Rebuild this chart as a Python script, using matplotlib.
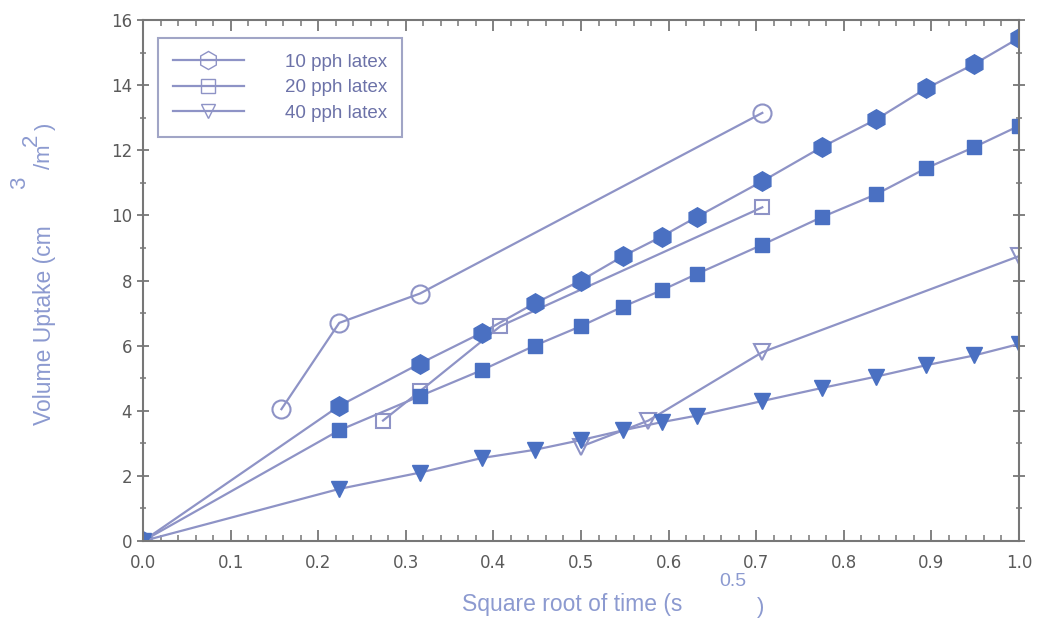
import numpy as np
import matplotlib.pyplot as plt
from matplotlib.lines import Line2D
from matplotlib.ticker import MultipleLocator, FormatStrFormatter

# data (x = square root of time)
x_full = [0.0, 0.224, 0.316, 0.387, 0.447, 0.5, 0.548, 0.592, 0.632,
          0.707, 0.775, 0.837, 0.894, 0.949, 1.0]
y10_filled = [0.0, 4.15, 5.45, 6.4, 7.3, 8.0, 8.75, 9.35, 9.95,
              11.05, 12.1, 12.95, 13.9, 14.65, 15.45]
y20_filled = [0.0, 3.4, 4.45, 5.25, 6.0, 6.6, 7.2, 7.7, 8.2,
              9.1, 9.95, 10.65, 11.45, 12.1, 12.75]
y40_filled = [0.0, 1.6, 2.1, 2.55, 2.8, 3.1, 3.4, 3.65, 3.85,
              4.3, 4.7, 5.05, 5.4, 5.7, 6.05]

x10_open = [0.158, 0.224, 0.316, 0.707]
y10_open = [4.05, 6.7, 7.6, 13.15]
x20_open = [0.274, 0.316, 0.408, 0.707]
y20_open = [3.7, 4.6, 6.6, 10.25]
x40_open = [0.5, 0.577, 0.707, 1.0]
y40_open = [2.9, 3.7, 5.8, 8.75]

labels = ['10 pph latex', '20 pph latex', '40 pph latex']

line_c = '#8e93c6'
fill_c = '#4a70c2'
text_c = '#5a5a5a'
lab_c = '#8c9ad0'

plt.rcParams['font.family'] = ['Liberation Sans', 'DejaVu Sans']

fig = plt.figure(figsize=(10.44, 6.28), dpi=100)
ax = fig.add_axes([0.137, 0.1385, 0.839, 0.8295])

# open-marker series
ax.plot(x10_open, y10_open, '-', color=line_c, lw=1.6, marker='o', ms=13,
        mfc='none', mec=line_c, mew=1.5)
ax.plot(x20_open, y20_open, '-', color=line_c, lw=1.6, marker='s', ms=10,
        mfc='none', mec=line_c, mew=1.5)
ax.plot(x40_open, y40_open, '-', color=line_c, lw=1.6, marker='v', ms=11,
        mfc='none', mec=line_c, mew=1.5)

# filled-marker series
ax.plot(x_full, y10_filled, '-', color=line_c, lw=1.6, marker='h', ms=14,
        mfc=fill_c, mec=fill_c)
ax.plot(x_full, y20_filled, '-', color=line_c, lw=1.6, marker='s', ms=10,
        mfc=fill_c, mec=fill_c)
ax.plot(x_full, y40_filled, '-', color=line_c, lw=1.6, marker='v', ms=11,
        mfc=fill_c, mec=fill_c)

ax.set_xlim(0, 1.0)
ax.set_ylim(0, 16)
ax.xaxis.set_major_locator(MultipleLocator(0.1))
ax.xaxis.set_minor_locator(MultipleLocator(0.02))
ax.xaxis.set_major_formatter(FormatStrFormatter('%.1f'))
ax.yaxis.set_major_locator(MultipleLocator(2))
ax.yaxis.set_minor_locator(MultipleLocator(1))

for s in ax.spines.values():
    s.set_color('#777777')
    s.set_linewidth(1.5)
ax.tick_params(axis='both', which='both', colors='#777777', labelcolor=text_c,
               top=True, right=True, labelsize=12, labelfontfamily='DejaVu Sans')
ax.tick_params(axis='both', which='major', length=8, width=1.3)
ax.tick_params(axis='both', which='minor', length=4, width=1.1)
ax.tick_params(axis='x', which='both', direction='in', pad=9)
ax.tick_params(axis='y', which='both', direction='inout', pad=4)

legend_elements = [
    Line2D([0], [0], color=line_c, lw=1.6, marker='h', ms=13, mfc='none', mec=line_c, label=labels[0]),
    Line2D([0], [0], color=line_c, lw=1.6, marker='s', ms=10, mfc='none', mec=line_c, label=labels[1]),
    Line2D([0], [0], color=line_c, lw=1.6, marker='v', ms=10, mfc='none', mec=line_c, label=labels[2]),
]
leg = ax.legend(handles=legend_elements, loc='upper left', bbox_to_anchor=(0.0125, 0.972),
                fontsize=13.5, labelcolor='#6c72a8', frameon=True, fancybox=False,
                handlelength=3.8, borderpad=0.8, labelspacing=0.45, handletextpad=2.2,
                borderaxespad=0.2)
leg.get_frame().set_edgecolor('#8a8fb8')
leg.get_frame().set_linewidth(1.5)

# axis labels built from pieces, like the original layout
W, H = 1044, 628
fig.text(572 / W, 1 - 605 / H, 'Square root of time (s', ha='center', va='center',
         fontsize=16.5, color=lab_c)
fig.text(733 / W, 1 - 581 / H, '0.5', ha='center', va='center', fontsize=14, color=lab_c)
fig.text(761 / W, 1 - 607 / H, ')', ha='center', va='center', fontsize=16, color=lab_c)

fig.text(45 / W, 1 - 325 / H, 'Volume Uptake (cm', ha='center', va='center',
         rotation=90, fontsize=16.5, color=lab_c)
fig.text(20 / W, 1 - 183 / H, '3', ha='center', va='center', rotation=90, fontsize=16, color=lab_c)
fig.text(45 / W, 1 - 157 / H, '/m', ha='center', va='center', rotation=90, fontsize=16, color=lab_c)
fig.text(31 / W, 1 - 140 / H, '2', ha='center', va='center', rotation=90, fontsize=16, color=lab_c)
fig.text(45 / W, 1 - 126 / H, ')', ha='center', va='center', rotation=90, fontsize=16, color=lab_c)

fig.savefig('out.png', dpi=100)
